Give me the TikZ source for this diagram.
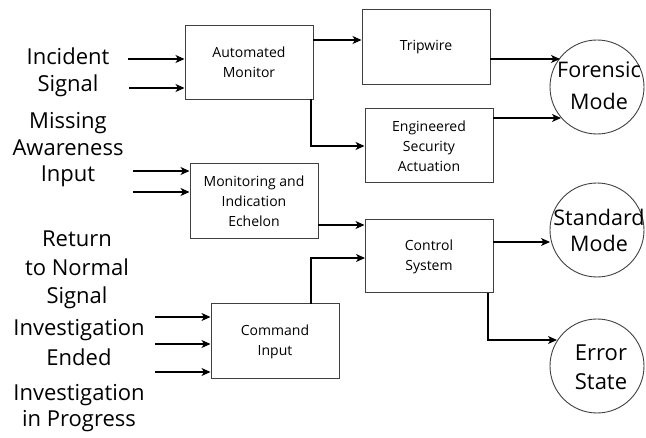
\documentclass[tikz,border=0pt]{standalone}
\usepackage{fontspec}
\setmainfont{Open Sans}
\usetikzlibrary{arrows.meta,calc}
\begin{document}
\begin{tikzpicture}[x=1pt,y=-1pt,
  blk/.style={draw=black!75,line width=1pt,minimum width=128pt,minimum height=74pt,inner sep=0pt,align=center,font=\fontsize{14}{20}\selectfont},
  st/.style={draw=black!75,line width=0.9pt,circle,minimum size=94pt,inner sep=0pt},
  sttext/.style={align=center,font=\fontsize{22}{29}\selectfont,inner sep=0pt},
  lab/.style={align=center,font=\fontsize{22}{27}\selectfont,inner sep=0pt},
  arr/.style={line width=1.1pt,-{Stealth[length=9pt,width=8pt,inset=2.5pt]}},
  ln/.style={line width=1.1pt}]
\useasboundingbox (0,0) rectangle (646,438);
% blocks
\node[blk] (am) at (249,62.5) {Automated\\Monitor};
\node[blk,minimum height=75pt] (tw) at (426,47.5) {Tripwire};
\node[blk] (es) at (429,146) {Engineered\\Security\\Actuation};
\node[blk,minimum height=75pt] (mi) at (254,201.5) {Monitoring and\\Indication\\Echelon};
\node[blk,minimum height=73pt] (cs) at (429,256.5) {Control\\System};
\node[blk,minimum height=75pt] (ci) at (275,341.5) {Command\\Input};
% states
\node[st] (fm) at (597,87) {};
\node[sttext,font=\fontsize{21.5}{32}\selectfont] (fmt) at (599,86) {Forensic\\Mode};
\node[st] (sm) at (597,230) {};
\node[sttext,font=\fontsize{21.5}{26}\selectfont] (smt) at (599,230) {Standard\\Mode};
\node[st] (er) at (597,366) {};
\node[sttext] (ert) at (601,367) {Error\\State};
% left labels
\node[lab] (l1) at (68,72) {Incident\\Signal};
\node[lab,font=\fontsize{22}{26.5}\selectfont] (l2) at (68,150) {Missing\\Awareness\\Input};
\node[lab,font=\fontsize{22}{28.5}\selectfont] (l3) at (77,270) {Return\\to Normal\\Signal};
\node[lab,font=\fontsize{22}{30}\selectfont] (l4) at (79,343) {Investigation\\Ended};
\node[lab,font=\fontsize{22}{26}\selectfont] (l5) at (79,408) {Investigation\\in Progress};
% free ends and bend points
\coordinate (i1) at (128,59);
\coordinate (i2) at (129,88);
\coordinate (i3) at (133,171);
\coordinate (i4) at (133,192);
\coordinate (i5) at (155,317);
\coordinate (i6) at (155,344);
\coordinate (i7) at (155,372);
\coordinate (amo) at (313,40);
\coordinate (amb) at (311,99);
\coordinate (two) at (490,59);
\coordinate (fmi1) at (560,59);
\coordinate (eso) at (493,118);
\coordinate (fmi2) at (561,118);
\coordinate (mio) at (318,225);
\coordinate (cit) at (311,304);
\coordinate (csi) at (365,258);
\coordinate (cso) at (493,242);
\coordinate (smi) at (550,242);
\coordinate (csb) at (488,293);
\coordinate (eri) at (557,340);
% inputs
\draw[arr] (i1) -- (i1 -| am.west);
\draw[arr] (i2) -- (i2 -| am.west);
\draw[arr] (i3) -- (i3 -| mi.west);
\draw[arr] (i4) -- (i4 -| mi.west);
\draw[arr] (i5) -- (i5 -| ci.west);
\draw[arr] (i6) -- (i6 -| ci.west);
\draw[arr] (i7) -- (i7 -| ci.west);
% internal connectors
\draw[arr] (amo) -- (amo -| tw.west);
\draw[arr] (amb) |- (es.west);
\draw[arr] (two) -- (fmi1);
\draw[arr] (eso) -- (fmi2);
\draw[arr] (mio) -- (mio -| cs.west);
\draw[arr] (cit) |- (csi);
\draw[arr] (cso) -- (smi);
\draw[arr] (csb) |- (eri);
\end{tikzpicture}
\end{document}
